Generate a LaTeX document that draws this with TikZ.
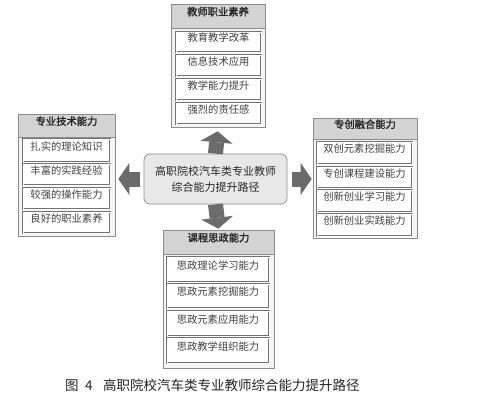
\documentclass[tikz,border=0pt]{standalone}
\usepackage{fontspec}
\setmainfont{Noto Sans CJK SC}
\newfontfamily\cjk{Noto Sans CJK SC}
\newfontfamily\cjkb[FakeBold=1.6]{Noto Sans CJK SC}
\usetikzlibrary{fit,arrows.meta}
\tikzset{
  outerbox/.style={draw=black!45, fill=black!4, line width=0.7pt, inner sep=0pt},
  headbox/.style={draw=black!45, fill=black!17, line width=0.6pt, inner sep=0pt,
    font=\cjkb\fontsize{10.3}{12}\selectfont, text=black!85},
  itembox/.style={draw=black!55, double=white, double distance=0.9pt, line width=0.45pt,
    fill=white, inner sep=0pt, font=\cjk\fontsize{10.3}{12}\selectfont, text=black!75},
  centerbox/.style={draw=black!45, fill=black!9, line width=0.7pt, rounded corners=6pt,
    inner sep=0pt, align=center, font=\cjk\fontsize{11}{16}\selectfont, text=black!85},
  bigarrow/.style={color=black!58, line width=15pt,
    -{Triangle[width=32pt,length=11pt,line width=0pt]}},
}
\newcommand\bx[6]{\node[itembox, fit={(#2,#3)(#4,#5)}] (#1) {#6};}
\begin{document}
\begin{tikzpicture}[x=1pt,y=-1pt]
\useasboundingbox[fill=white] (0,0) rectangle (478,412);

% center
\node[centerbox, fit={(144,154)(287,204)}] (c) {};
\node[centerbox, draw=none, fill=none] (ctext) at (c.center) {高职院校汽车类专业教师\\综合能力提升路径};

% top group
\node[outerbox, fit={(171,4)(265,127)}] (top) {};
\node[headbox, fit={(171,4)(265,28)}] (toph) {教师职业素养};
\bx{t1}{176}{32}{261}{52}{教育教学改革}
\bx{t2}{176}{55}{261}{76}{信息技术应用}
\bx{t3}{176}{79}{261}{100}{教学能力提升}
\bx{t4}{176}{103}{261}{124}{强烈的责任感}

% left group
\node[outerbox, fit={(18,114)(115,236)}] (lft) {};
\node[headbox, fit={(18,114)(115,137)}] (lfth) {专业技术能力};
\bx{l1}{23}{139}{110}{162}{扎实的理论知识}
\bx{l2}{23}{164}{110}{185}{丰富的实践经验}
\bx{l3}{23}{188}{110}{209}{较强的操作能力}
\bx{l4}{23}{212}{110}{233}{良好的职业素养}

% right group
\node[outerbox, fit={(313,118)(417,238)}] (rgt) {};
\node[headbox, fit={(313,118)(417,139)}] (rgth) {专创融合能力};
\bx{r1}{317}{142}{412}{164}{双创元素挖掘能力}
\bx{r2}{317}{167}{412}{188}{专创课程建设能力}
\bx{r3}{317}{190}{412}{212}{创新创业学习能力}
\bx{r4}{317}{214}{412}{236}{创新创业实践能力}

% bottom group
\node[outerbox, fit={(163,230)(274,368)}] (bot) {};
\node[headbox, fit={(163,230)(274,254)}] (both) {课程思政能力};
\bx{b1}{167}{257}{269}{282}{思政理论学习能力}
\bx{b2}{167}{284}{269}{308}{思政元素挖掘能力}
\bx{b3}{167}{311}{269}{336}{思政元素应用能力}
\bx{b4}{167}{338}{269}{363}{思政教学组织能力}

% arrows
\draw[bigarrow, shorten >=4pt] (c.north) -- (top.south);
\draw[bigarrow, shorten <=0pt, shorten >=1pt] (c.south) -- (bot.north);
\draw[bigarrow, shorten <=4pt, shorten >=3pt] (c.west) -- (lft.east |- c.west);
\draw[bigarrow, shorten <=5pt, shorten >=1pt] (c.east) -- (rgt.west |- c.east);

% caption
\node[anchor=west, inner sep=0pt, font=\cjk\fontsize{13.5}{16}\selectfont, text=black!85] (cap) at (65,385)
  {图\hspace{6.5pt}4\hspace{10.5pt}高职院校汽车类专业教师综合能力提升路径};
\end{tikzpicture}
\end{document}
